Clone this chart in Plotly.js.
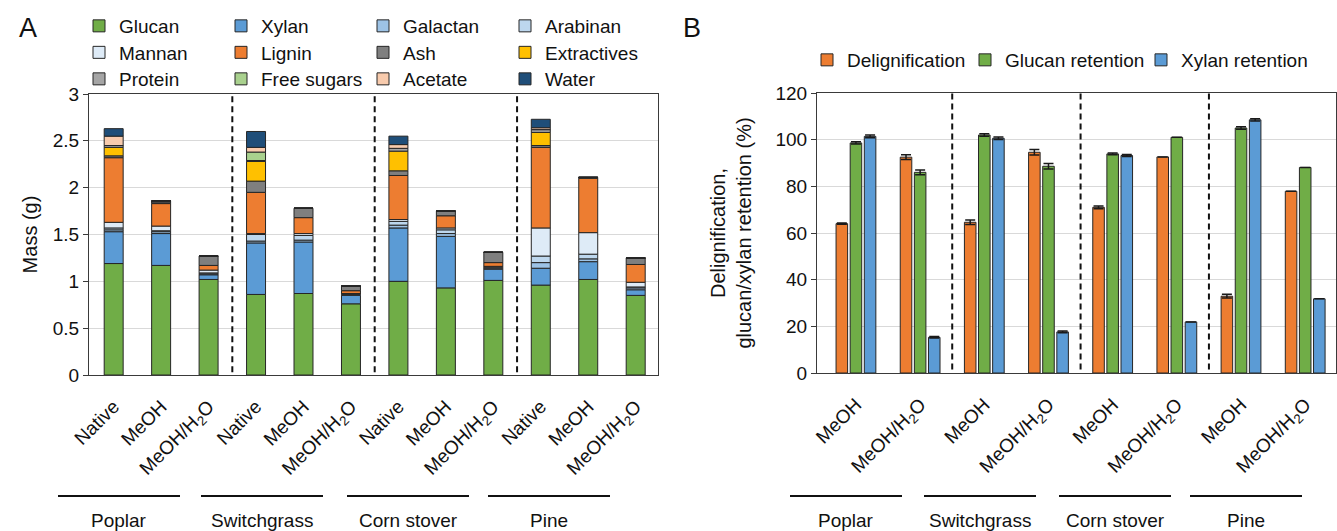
<!DOCTYPE html>
<html>
<head>
<meta charset="utf-8">
<script src="https://cdn.plot.ly/plotly-3.0.1.min.js"></script>
<style>html,body{margin:0;padding:0;background:#fff;}#chart{width:1337px;height:531px;}</style>
</head>
<body>
<div id="chart"></div>
<script>
// ---------------- DATA ----------------
const groups = ['Poplar', 'Switchgrass', 'Corn stover', 'Pine'];
const treatmentsA = ['Native', 'MeOH', 'MeOH/H<sub>2</sub>O'];
const treatmentsB = ['MeOH', 'MeOH/H<sub>2</sub>O'];

// Panel A: mass (g) of each component; order per group: Native, MeOH, MeOH/H2O
const componentNames = ['Glucan', 'Xylan', 'Galactan', 'Arabinan', 'Mannan', 'Lignin', 'Ash',
                        'Extractives', 'Protein', 'Free sugars', 'Acetate', 'Water'];
const glucan      = [1.19, 1.17, 1.02, 0.86, 0.87, 0.76, 1.00, 0.93, 1.01, 0.96, 1.02, 0.85];
const xylan       = [0.34, 0.34, 0.05, 0.55, 0.55, 0.09, 0.57, 0.55, 0.12, 0.18, 0.19, 0.06];
const galactan    = [0.02, 0.02, 0.01, 0.02, 0.02, 0.01, 0.03, 0.03, 0.01, 0.06, 0.03, 0.02];
const arabinan    = [0.02, 0.01, 0.01, 0.07, 0.05, 0.01, 0.04, 0.04, 0.01, 0.07, 0.05, 0.01];
const mannan      = [0.06, 0.05, 0.03, 0.01, 0.02, 0.00, 0.02, 0.02, 0.01, 0.30, 0.23, 0.05];
const lignin      = [0.69, 0.24, 0.05, 0.44, 0.17, 0.03, 0.47, 0.13, 0.04, 0.86, 0.58, 0.19];
const ash         = [0.02, 0.02, 0.10, 0.12, 0.10, 0.05, 0.05, 0.05, 0.11, 0.02, 0.01, 0.07];
const extractives = [0.09, 0.00, 0.00, 0.21, 0.00, 0.00, 0.21, 0.00, 0.00, 0.14, 0.00, 0.00];
const protein     = [0.02, 0.01, 0.00, 0.01, 0.00, 0.00, 0.03, 0.00, 0.00, 0.03, 0.00, 0.00];
const freeSugars  = [0.00, 0.00, 0.00, 0.09, 0.00, 0.00, 0.00, 0.00, 0.00, 0.00, 0.00, 0.00];
const acetate     = [0.10, 0.00, 0.00, 0.05, 0.00, 0.00, 0.04, 0.00, 0.00, 0.02, 0.00, 0.00];
const water       = [0.08, 0.00, 0.00, 0.17, 0.00, 0.00, 0.09, 0.00, 0.00, 0.09, 0.00, 0.00];

// Panel B: percentages; order per group: MeOH, MeOH/H2O
const seriesNamesB = ['Delignification', 'Glucan retention', 'Xylan retention'];
const delignification = [64.0, 92.5, 64.6, 94.6, 71.0, 92.6, 32.9, 77.9];
const delignErr       = [0.3, 1.0, 1.0, 1.2, 0.6, 0.0, 0.8, 0.0];
const glucanRet       = [98.6, 86.0, 102.0, 88.6, 93.9, 101.0, 105.0, 88.1];
const glucanErr       = [0.5, 1.0, 0.5, 1.2, 0.4, 0.0, 0.5, 0.0];
const xylanRet        = [101.4, 15.3, 100.6, 17.6, 93.2, 21.9, 108.5, 31.8];
const xylanErr        = [0.6, 0.3, 0.5, 0.4, 0.4, 0.0, 0.5, 0.0];

// ---------------- STYLE ----------------
const W = 1337, H = 531;
const px = x => x / W;
const py = y => 1 - y / H;
const FONT = 'Liberation Sans, Arial, Helvetica, sans-serif';
const TXT = '#111';
const OUTLINE = '#262626';
const compColors = ['#70ad47', '#5b9bd5', '#9dc3e6', '#bdd7ee', '#deebf7', '#ed7d31', '#7f7f7f',
                    '#ffc000', '#a5a5a5', '#a9d18e', '#f8cbad', '#1f4e79'];
const bColors = ['#ed7d31', '#70ad47', '#5b9bd5'];

// categories (unique keys), displayed with treatment names
const catsA = [], tickA = [];
groups.forEach(g => treatmentsA.forEach(t => { catsA.push(g + '|' + t); tickA.push(t); }));
const catsB = [], tickB = [];
groups.forEach(g => treatmentsB.forEach(t => { catsB.push(g + '|' + t); tickB.push(t); }));

// ---------------- TRACES ----------------
const comps = [glucan, xylan, galactan, arabinan, mannan, lignin, ash, extractives, protein, freeSugars, acetate, water];
const traces = [];
const running = catsA.map(() => 0);
comps.forEach((vals, k) => {
  const base = running.slice();
  vals.forEach((v, i) => { running[i] += v; });
  const row = Math.floor(k / 4);
  traces.push({
    type: 'bar', name: componentNames[k], x: catsA, y: vals, base: base,
    xaxis: 'x', yaxis: 'y', width: 0.4,
    marker: { color: compColors[k], line: { color: OUTLINE, width: 1 } },
    legend: row === 0 ? 'legend' : (row === 1 ? 'legend2' : 'legend3'),
    hoverinfo: 'name+y'
  });
});

const bVals = [delignification, glucanRet, xylanRet];
const bErrs = [delignErr, glucanErr, xylanErr];
const bOffsets = [-0.31, -0.09, 0.13];
const bLegendWidth = [113, 131, 141];
bVals.forEach((vals, k) => {
  traces.push({
    type: 'bar', name: seriesNamesB[k], x: catsB, y: vals,
    xaxis: 'x2', yaxis: 'y2', width: 0.18, offset: bOffsets[k],
    marker: { color: bColors[k], line: { color: OUTLINE, width: 1 } },
    error_y: { type: 'data', array: bErrs[k], visible: true, color: '#1a1a1a', thickness: 1.5, width: 5 },
    legend: 'legend4', legendwidth: bLegendWidth[k],
    hoverinfo: 'name+y'
  });
});

// ---------------- LAYOUT ----------------
const axisCommon = {
  showline: true, mirror: true, linecolor: '#3a3a3a', linewidth: 1,
  tickfont: { family: FONT, size: 19, color: TXT }, fixedrange: true, automargin: false
};
const xCommon = Object.assign({}, axisCommon, {
  type: 'category', showgrid: false, ticks: '', tickangle: -45, zeroline: false, ticklabelstandoff: 12
});
const yCommon = Object.assign({}, axisCommon, {
  showgrid: true, gridcolor: '#d9d9d9', gridwidth: 1, ticks: 'outside', ticklen: 5,
  tickcolor: '#3a3a3a', zeroline: false
});

const shapes = [];
// dashed separators between species groups
for (let k = 1; k < groups.length; k++) {
  shapes.push({ type: 'line', xref: 'x', yref: 'y', x0: k * 3 - 0.5, x1: k * 3 - 0.5, y0: 0.03, y1: 3,
    line: { color: '#111', width: 2, dash: '6px,4px' } });
  shapes.push({ type: 'line', xref: 'x2', yref: 'y2', x0: k * 2 - 0.5, x1: k * 2 - 0.5, y0: 1.5, y1: 120,
    line: { color: '#111', width: 2, dash: '6px,4px' } });
}
// group underline rules + group labels
const groupCentersA = [119, 262, 408, 549];
const groupCentersB = [846, 980, 1115, 1246];
const annotations = [];
groups.forEach((g, i) => {
  shapes.push({ type: 'line', xref: 'paper', yref: 'paper', x0: px(groupCentersA[i] - 61), x1: px(groupCentersA[i] + 61),
    y0: py(496), y1: py(496), line: { color: '#111', width: 2 } });
  shapes.push({ type: 'line', xref: 'paper', yref: 'paper', x0: px(groupCentersB[i] - 56), x1: px(groupCentersB[i] + 56),
    y0: py(496), y1: py(496), line: { color: '#111', width: 2 } });
  annotations.push({ xref: 'paper', yref: 'paper', x: px(groupCentersA[i]), y: py(520), text: g, showarrow: false,
    xanchor: 'center', yanchor: 'middle', font: { family: FONT, size: 19, color: TXT } });
  annotations.push({ xref: 'paper', yref: 'paper', x: px(groupCentersB[i]), y: py(520), text: g, showarrow: false,
    xanchor: 'center', yanchor: 'middle', font: { family: FONT, size: 19, color: TXT } });
});
// panel letters
annotations.push({ xref: 'paper', yref: 'paper', x: px(28), y: py(28), text: 'A', showarrow: false,
  xanchor: 'center', yanchor: 'middle', font: { family: FONT, size: 27, color: TXT } });
annotations.push({ xref: 'paper', yref: 'paper', x: px(692), y: py(28), text: 'B', showarrow: false,
  xanchor: 'center', yanchor: 'middle', font: { family: FONT, size: 27, color: TXT } });

const legendCommon = {
  orientation: 'h', xanchor: 'left', yanchor: 'middle', bgcolor: 'rgba(0,0,0,0)', borderwidth: 0,
  font: { family: FONT, size: 19, color: TXT }, traceorder: 'normal', entrywidthmode: 'pixels',
  itemclick: false, itemdoubleclick: false
};

const layout = {
  width: W, height: H, margin: { l: 0, r: 0, t: 0, b: 0, pad: 0 },
  paper_bgcolor: '#fff', plot_bgcolor: '#fff',
  font: { family: FONT, size: 19, color: TXT },
  barmode: 'overlay', showlegend: true,
  xaxis: Object.assign({}, xCommon, { domain: [px(89), px(658)], anchor: 'y', range: [-0.52, 11.47],
    categoryorder: 'array', categoryarray: catsA, tickvals: catsA, ticktext: tickA }),
  yaxis: Object.assign({}, yCommon, { domain: [py(375), py(94)], anchor: 'x', range: [0, 3], dtick: 0.5,
    title: { text: 'Mass (g)', standoff: 9, font: { family: FONT, size: 20, color: TXT } } }),
  xaxis2: Object.assign({}, xCommon, { domain: [px(817), px(1336)], anchor: 'y2', range: [-0.607, 7.48],
    categoryorder: 'array', categoryarray: catsB, tickvals: catsB, ticktext: tickB }),
  yaxis2: Object.assign({}, yCommon, { domain: [py(373), py(93)], anchor: 'x2', range: [0, 120], dtick: 20,
    title: { text: 'Delignification,<br>glucan/xylan retention (%)', standoff: 18, font: { family: FONT, size: 20, color: TXT } } }),
  legend:  Object.assign({}, legendCommon, { x: px(79), y: py(26), entrywidth: 97 }),
  legend2: Object.assign({}, legendCommon, { x: px(79), y: py(52.5), entrywidth: 97 }),
  legend3: Object.assign({}, legendCommon, { x: px(79), y: py(79), entrywidth: 97 }),
  legend4: Object.assign({}, legendCommon, { x: px(807), y: py(60), entrywidth: 0 }),
  shapes: shapes, annotations: annotations
};

Plotly.newPlot('chart', traces, layout, { displayModeBar: false, staticPlot: true });
</script>
</body>
</html>
